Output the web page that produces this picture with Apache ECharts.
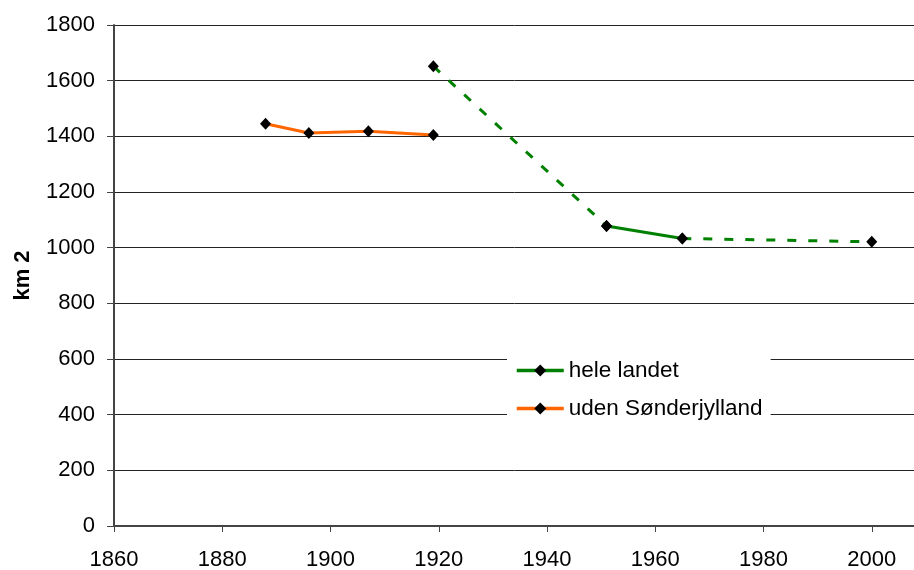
<!DOCTYPE html>
<html>
<head>
<meta charset="utf-8">
<script src="https://cdn.jsdelivr.net/npm/echarts@6/dist/echarts.min.js"></script>
<style>
  html, body { margin: 0; padding: 0; background: #fff; }
  #chart { width: 914px; height: 570px; }
</style>
</head>
<body>
<div id="chart"></div>
<script>
// tick labels
const xTicks = [1860, 1880, 1900, 1920, 1940, 1960, 1980, 2000];
const yTicks = [0, 200, 400, 600, 800, 1000, 1200, 1400, 1600, 1800];

// uden Sønderjylland
const udenYears = [1888, 1896, 1907, 1919];
const udenValues = [1445, 1412, 1418, 1405];

// hele landet
const heleYears = [1919, 1951, 1965, 2000];
const heleValues = [1652, 1078, 1033, 1021];
// line style of each segment between the points above
const heleSegments = ["dashed", "solid", "dashed"];

const FONT = "'Liberation Sans', Arial, sans-serif";
const GREEN = "#008000";
const ORANGE = "#ff6600";

const marker = {
  symbol: "diamond",
  symbolSize: [11, 12],
  showSymbol: true,
  itemStyle: { color: "#000" },
};

const segSeries = heleSegments.map((kind, i) => ({
  name: "hele landet",
  type: "line",
  ...marker,
  data: [
    [heleYears[i], heleValues[i]],
    [heleYears[i + 1], heleValues[i + 1]],
  ],
  lineStyle: { color: GREEN, width: 3, type: kind === "solid" ? "solid" : [9, 12] },
  solid: kind === "solid",
}));
// legend takes its icon from the first series with the name, so solid first
const heleSeries = [...segSeries.filter((s) => s.solid), ...segSeries.filter((s) => !s.solid)];

const udenSeries = {
  name: "uden Sønderjylland",
  type: "line",
  ...marker,
  data: udenYears.map((y, i) => [y, udenValues[i]]),
  lineStyle: { color: ORANGE, width: 3 },
};

const xStep = xTicks[1] - xTicks[0];
const yStep = yTicks[1] - yTicks[0];
const plain = (v) => String(v);

const chart = echarts.init(document.getElementById("chart"), null, { renderer: "canvas" });

chart.setOption({
  animation: false,
  backgroundColor: "#fff",
  textStyle: { fontFamily: FONT },
  grid: { left: 114, right: -66, top: 25, bottom: 44, outerBoundsMode: "none" },
  legend: {
    data: ["hele landet", "uden Sønderjylland"],
    orient: "vertical",
    left: 507,
    top: 351,
    padding: [8, 8, 8, 8],
    backgroundColor: "#fff",
    itemWidth: 47,
    itemHeight: 15,
    itemGap: 15,
    lineStyle: { width: 3.5 },
    textStyle: { fontFamily: FONT, fontSize: 22.5, color: "#000" },
  },
  xAxis: {
    type: "value",
    min: xTicks[0],
    max: xTicks[xTicks.length - 1] + xStep,
    interval: xStep,
    axisLine: { lineStyle: { color: "#444", width: 2 } },
    axisTick: { show: true, length: 6, lineStyle: { color: "#444", width: 1 } },
    axisLabel: { fontFamily: FONT, fontSize: 22, color: "#000", margin: 23, formatter: plain },
    splitLine: { show: false },
  },
  yAxis: {
    type: "value",
    min: yTicks[0],
    max: yTicks[yTicks.length - 1],
    interval: yStep,
    name: "km 2",
    nameLocation: "middle",
    nameRotate: 90,
    nameGap: 80,
    nameTextStyle: { fontFamily: FONT, fontSize: 22, fontWeight: "bold", color: "#000" },
    axisLine: { show: true, lineStyle: { color: "#444", width: 2 } },
    axisTick: { show: true, length: 7, lineStyle: { color: "#444", width: 1 } },
    axisLabel: { fontFamily: FONT, fontSize: 22, color: "#000", margin: 19, formatter: plain },
    splitLine: { show: true, lineStyle: { color: "#222", width: 1 } },
  },
  series: [...heleSeries, udenSeries],
});
</script>
</body>
</html>
